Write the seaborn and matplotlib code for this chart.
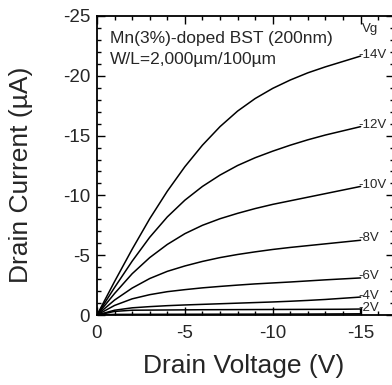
import pandas as pd
import numpy as np
import matplotlib
matplotlib.use("Agg")
import matplotlib.pyplot as plt
import seaborn as sns
from matplotlib.ticker import MultipleLocator

# Drain voltage points (V)
vd = [0, -1, -2, -3, -4, -5, -6, -7, -8, -9, -10, -11, -12, -13, -14, -15]

# Drain current for each gate voltage (uA)
id_14 = [0, -2.8, -5.5, -8.05, -10.35, -12.4, -14.2, -15.75, -17.05, -18.1, -18.95, -19.65, -20.25, -20.75, -21.2, -21.65]
id_12 = [0, -2.3, -4.5, -6.5, -8.2, -9.6, -10.75, -11.7, -12.5, -13.15, -13.7, -14.2, -14.65, -15.05, -15.4, -15.75]
id_10 = [0, -1.8, -3.45, -4.8, -5.9, -6.8, -7.5, -8.05, -8.5, -8.9, -9.25, -9.55, -9.85, -10.15, -10.45, -10.75]
id_8 = [0, -1.25, -2.25, -3.05, -3.65, -4.1, -4.48, -4.8, -5.06, -5.28, -5.48, -5.65, -5.8, -5.95, -6.1, -6.25]
id_6 = [0, -0.8, -1.35, -1.7, -1.95, -2.12, -2.27, -2.39, -2.5, -2.6, -2.68, -2.76, -2.85, -2.94, -3.02, -3.1]
id_4 = [0, -0.4, -0.6, -0.7, -0.78, -0.84, -0.89, -0.94, -0.99, -1.04, -1.09, -1.15, -1.22, -1.3, -1.4, -1.5]
# -2V forward and return sweep
vd_2 = [0, -1, -2, -4, -6, -8, -10, -12, -14, -15, -15, -12, -8, -4, -1, 0]
id_2 = [0, -0.3, -0.4, -0.42, -0.44, -0.45, -0.46, -0.47, -0.48, -0.5, -0.1, -0.08, -0.07, -0.06, -0.05, 0]

gate_labels = ["-14V", "-12V", "-10V", "-8V", "-6V", "-4V", "-2V"]
label_y = [-21.7, -15.9, -10.9, -6.4, -3.3, -1.6, -0.55]

frames = []
for lab, cur in zip(gate_labels[:-1], [id_14, id_12, id_10, id_8, id_6, id_4]):
    frames.append(pd.DataFrame({"Vd": vd, "Id": cur, "Vg": lab}))
frames.append(pd.DataFrame({"Vd": vd_2, "Id": id_2, "Vg": "-2V"}))
df = pd.concat(frames, ignore_index=True)

sns.set_style("ticks")
plt.rcParams['font.family'] = ['Liberation Sans', 'DejaVu Sans']

fig = plt.figure(figsize=(3.92, 3.85), dpi=100)
ax = fig.add_axes([97 / 392, 70 / 385, (394 - 97) / 392, (315 - 16) / 385])

sns.lineplot(data=df, x="Vd", y="Id", units="Vg", estimator=None, sort=False,
             color="black", linewidth=1.1, ax=ax)

ax.set_xlim(0, -16.9)
ax.set_ylim(0, -25)
ax.xaxis.set_minor_locator(MultipleLocator(1))
ax.yaxis.set_minor_locator(MultipleLocator(1))
ax.set_xticks([0, -5, -10, -15])
ax.set_xticklabels(["0", "-5", "-10", "-15"])
ax.set_yticks([0, -5, -10, -15, -20, -25])
ax.set_yticklabels(["0", "-5", "-10", "-15", "-20", "-25"])
ax.tick_params(which="both", direction="in", top=True, right=True, color="black", width=1)
ax.tick_params(which="major", length=6, labelsize=13.5)
ax.tick_params(axis="x", which="major", pad=7)
ax.tick_params(axis="y", which="major", pad=5)
ax.tick_params(which="minor", length=3)
for s in ax.spines.values():
    s.set_linewidth(1.3)
    s.set_color("black")

ax.set_xlabel("Drain Voltage (V)", fontsize=19)
ax.set_ylabel("Drain Current (\u00b5A)", fontsize=19)
ax.xaxis.set_label_coords(0.495, -0.13)
ax.yaxis.set_label_coords(-0.215, 0.468)

# end labels for each gate voltage
for lab, yv in zip(gate_labels, label_y):
    ax.text(-14.85, yv, lab, fontsize=9.5, ha="left", va="center")
ax.text(-15.05, -23.9, "Vg", fontsize=9.5, ha="left", va="center")

ax.text(-0.74, -23.1, "Mn(3%)-doped BST (200nm)", fontsize=12.5, ha="left", va="center")
ax.text(-0.74, -21.4, "W/L=2,000\u00b5m/100\u00b5m", fontsize=12.5, ha="left", va="center")

if ax.get_legend() is not None:
    ax.get_legend().remove()
fig.savefig("out.png", dpi=100)
